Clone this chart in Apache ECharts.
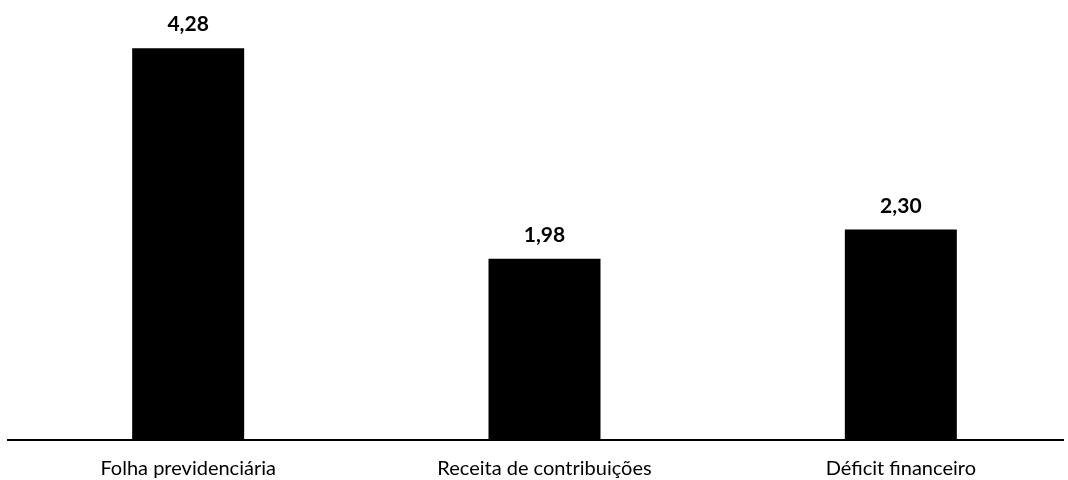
<!DOCTYPE html>
<html>
<head>
<meta charset="utf-8">
<script src="https://cdn.jsdelivr.net/npm/echarts@6/dist/echarts.min.js"></script>
<style>
  html, body { margin: 0; padding: 0; background: #ffffff; }
  #chart { width: 1068px; height: 480px; }
</style>
</head>
<body>
<div id="chart"></div>
<script>
// Categories and values (R$ bilhões)
const categories = ['Folha previdenciária', 'Receita de contribuições', 'Déficit financeiro'];
const values = [4.28, 1.98, 2.30];

const fmt = v => v.toFixed(2).replace('.', ',');

const chart = echarts.init(document.getElementById('chart'), null, { renderer: 'canvas' });

chart.setOption({
  backgroundColor: '#ffffff',
  animation: false,
  grid: {
    left: 10, right: -11, top: 28, bottom: 40,
    containLabel: false,
    outerBoundsMode: 'none'
  },
  xAxis: {
    type: 'category',
    data: categories,
    axisLine: { show: false },
    axisTick: { show: false },
    axisLabel: {
      color: '#000000',
      fontFamily: 'Lato',
      fontSize: 20,
      margin: 19
    }
  },
  yAxis: {
    type: 'value',
    min: 0,
    max: 4.5,
    show: false,
    splitLine: { show: false }
  },
  series: [{
    type: 'bar',
    data: values,
    barWidth: 112,
    itemStyle: { color: '#000000' },
    label: {
      show: true,
      position: 'top',
      distance: 13,
      color: '#000000',
      fontFamily: 'Lato',
      fontWeight: 'bold',
      fontSize: 21,
      formatter: p => fmt(p.value)
    }
  }],
  graphic: [{
    type: 'line',
    shape: { x1: 7, y1: 440, x2: 1064, y2: 440 },
    style: { stroke: '#000000', lineWidth: 2 },
    z: 10
  }]
});
</script>
</body>
</html>
